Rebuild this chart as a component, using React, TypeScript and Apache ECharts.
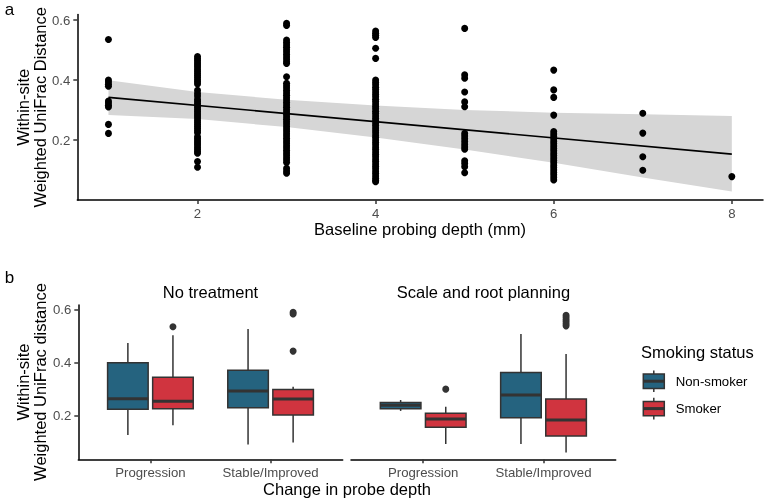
import React, { useEffect, useRef } from "react";
import * as echarts from "echarts";

// ---------- Panel a data ----------
const depthLevels = [1, 2, 3, 4, 5, 6, 7, 8];
const depth1 = [0.535, 0.4, 0.393, 0.386, 0.379, 0.33, 0.323, 0.316, 0.31, 0.252, 0.222];
const depth2 = [
  0.478, 0.471, 0.464, 0.457, 0.45, 0.443, 0.436, 0.429, 0.422, 0.415, 0.408, 0.401, 0.394, 0.387,
  0.366, 0.356, 0.347, 0.336, 0.329, 0.322, 0.315, 0.308, 0.301, 0.294, 0.287, 0.28, 0.273, 0.266,
  0.259, 0.252, 0.245, 0.238, 0.231, 0.224, 0.211, 0.204, 0.197, 0.19, 0.183, 0.176, 0.169, 0.162,
  0.156, 0.128, 0.109,
];
const depth3 = [
  0.589, 0.582, 0.533, 0.525, 0.517, 0.509, 0.501, 0.493, 0.485, 0.477, 0.469, 0.461, 0.455, 0.411,
  0.389, 0.381, 0.373, 0.365, 0.357, 0.349, 0.341, 0.333, 0.325, 0.317, 0.309, 0.301, 0.293, 0.285,
  0.277, 0.269, 0.261, 0.253, 0.245, 0.237, 0.229, 0.221, 0.213, 0.205, 0.197, 0.189, 0.181, 0.173,
  0.165, 0.157, 0.149, 0.141, 0.133, 0.125, 0.106, 0.097, 0.089,
];
const depth4 = [
  0.563, 0.556, 0.549, 0.542, 0.506, 0.472, 0.4, 0.392, 0.384, 0.376, 0.368, 0.36, 0.352, 0.344,
  0.336, 0.328, 0.32, 0.312, 0.304, 0.296, 0.288, 0.28, 0.272, 0.264, 0.256, 0.248, 0.24, 0.232,
  0.224, 0.216, 0.208, 0.2, 0.192, 0.184, 0.176, 0.168, 0.16, 0.152, 0.144, 0.136, 0.128, 0.12,
  0.112, 0.104, 0.096, 0.088, 0.08, 0.072, 0.065, 0.061,
];
const depth5 = [
  0.572, 0.417, 0.406, 0.36, 0.327, 0.311, 0.222, 0.213, 0.204, 0.195, 0.186, 0.177, 0.169, 0.131,
  0.122, 0.111, 0.091,
];
const depth6 = [
  0.433, 0.367, 0.342, 0.283, 0.228, 0.22, 0.212, 0.204, 0.196, 0.188, 0.18, 0.172, 0.164, 0.156,
  0.148, 0.14, 0.132, 0.124, 0.116, 0.108, 0.1, 0.092, 0.084, 0.076, 0.067,
];
const depth7 = [0.289, 0.223, 0.144, 0.099];
const depth8 = [0.078];
const depthColumns = [depth1, depth2, depth3, depth4, depth5, depth6, depth7, depth8];

const fitX = [1, 8];
const fitY = [0.342, 0.153];
const bandX = [1, 2, 3, 4, 5, 6, 7, 8];
const bandUpper = [0.399, 0.36, 0.334, 0.315, 0.3, 0.291, 0.286, 0.28];
const bandLower = [0.283, 0.27, 0.243, 0.208, 0.168, 0.124, 0.075, 0.028];

const xTicksA = [2, 4, 6, 8];
const yTicks = [0.2, 0.4, 0.6];

// ---------- Panel b data ----------
const categories = ["Progression", "Stable/Improved"];
const facets = ["No treatment", "Scale and root planning"];
const groups = ["Non-smoker", "Smoker"];
const groupColors = ["#25637F", "#D0343F"];
const catTicks = [1, 2];

// [lower whisker, Q1, median, Q3, upper whisker] for Progression, Stable/Improved
const noTreatNonSmoker = [
  [0.127, 0.224, 0.264, 0.399, 0.474],
  [0.092, 0.23, 0.293, 0.371, 0.526],
];
const noTreatSmoker = [
  [0.164, 0.226, 0.254, 0.345, 0.503],
  [0.099, 0.203, 0.263, 0.299, 0.309],
];
const srpNonSmoker = [
  [0.218, 0.226, 0.239, 0.25, 0.259],
  [0.094, 0.192, 0.278, 0.363, 0.507],
];
const srpSmoker = [
  [0.094, 0.157, 0.188, 0.209, 0.234],
  [0.062, 0.124, 0.184, 0.263, 0.432],
];
const noTreatSmokerOutliers = [[0.535], [0.589, 0.583, 0.443]];
const srpSmokerOutliers = [[0.3], [0.578, 0.57, 0.562, 0.554, 0.546, 0.538]];

// ---------- styling constants ----------
const FONT = "'Liberation Sans', Arial, Helvetica, sans-serif";
const DODGE = 0.1875;
const BOX_W = 0.3375;
const DARK = "#333333";
const TICK_TEXT = "#4D4D4D";

function boxItems(nonSmoker: number[][], smoker: number[][]) {
  const items: number[][] = [];
  categories.forEach((_, ci) => {
    items.push([ci + 1 - DODGE, ...nonSmoker[ci], 0]);
    items.push([ci + 1 + DODGE, ...smoker[ci], 1]);
  });
  return items;
}

function outlierItems(smokerOut: number[][]) {
  const items: number[][] = [];
  smokerOut.forEach((vals, ci) => vals.forEach((v) => items.push([ci + 1 + DODGE, v])));
  return items;
}

const boxRender = (params: any, api: any) => {
  const x = api.value(0);
  const lo = api.coord([x, api.value(1)]);
  const q1 = api.coord([x, api.value(2)]);
  const med = api.coord([x, api.value(3)]);
  const q3 = api.coord([x, api.value(4)]);
  const hi = api.coord([x, api.value(5)]);
  const halfW = api.size([BOX_W, 0])[0] / 2;
  const color = groupColors[api.value(6)];
  const cx = lo[0];
  return {
    type: "group",
    children: [
      { type: "line", shape: { x1: cx, y1: hi[1], x2: cx, y2: q3[1] }, style: { stroke: DARK, lineWidth: 1.5 } },
      { type: "line", shape: { x1: cx, y1: q1[1], x2: cx, y2: lo[1] }, style: { stroke: DARK, lineWidth: 1.5 } },
      {
        type: "rect",
        shape: { x: cx - halfW, y: q3[1], width: halfW * 2, height: q1[1] - q3[1] },
        style: { fill: color, stroke: DARK, lineWidth: 1.5 },
      },
      {
        type: "line",
        shape: { x1: cx - halfW, y1: med[1], x2: cx + halfW, y2: med[1] },
        style: { stroke: DARK, lineWidth: 3 },
      },
    ],
  };
};

const bandRender = (params: any, api: any) => {
  if (params.dataIndex !== 0) return null;
  const pts: number[][] = [];
  bandX.forEach((x, i) => pts.push(api.coord([x, bandUpper[i]])));
  for (let i = bandX.length - 1; i >= 0; i--) pts.push(api.coord([bandX[i], bandLower[i]]));
  return { type: "polygon", shape: { points: pts }, style: { fill: "#D6D6D6" } };
};

function valueAxisBase(extra: any) {
  return {
    type: "value",
    splitLine: { show: false },
    axisLine: { show: true, onZero: false, lineStyle: { color: "#000", width: 1.5 } },
    axisTick: { show: true, length: 4, lineStyle: { color: DARK, width: 1.5 } },
    axisLabel: { color: TICK_TEXT, fontSize: 13.2, fontFamily: FONT, margin: 7 },
    ...extra,
  };
}

function text(t: string, x: number, y: number, size: number, opts: any = {}) {
  return {
    type: "text",
    x,
    y,
    rotation: opts.rotation || 0,
    silent: true,
    style: {
      text: t,
      fontSize: size,
      fontFamily: FONT,
      fill: opts.fill || "#000",
      align: opts.align || "center",
      verticalAlign: "middle",
    },
  };
}

function legendKey(cy: number, color: string) {
  const cx = 653.8;
  return [
    { type: "line", shape: { x1: cx, y1: cy - 10.8, x2: cx, y2: cy + 10.8 }, style: { stroke: DARK, lineWidth: 1.5 } },
    {
      type: "rect",
      shape: { x: cx - 10.5, y: cy - 7.2, width: 21, height: 14.4 },
      style: { fill: color, stroke: DARK, lineWidth: 1.5 },
    },
    { type: "line", shape: { x1: cx - 10.5, y1: cy, x2: cx + 10.5, y2: cy }, style: { stroke: DARK, lineWidth: 3 } },
  ];
}

export default function App() {
  const ref = useRef<HTMLDivElement>(null);
  useEffect(() => {
    const chart = echarts.init(ref.current!, null, { renderer: "svg", width: 767, height: 503 });
    const scatterData = depthColumns.flatMap((col, i) => col.map((v) => [depthLevels[i], v]));
    const option: any = {
      animation: false,
      textStyle: { fontFamily: FONT },
      grid: [
        { left: 77.3, top: 14.6, width: 685.7, height: 185.4 },
        { left: 78.3, top: 305, width: 264.4, height: 154.3 },
        { left: 351, top: 305, width: 264.7, height: 154.3 },
      ],
      xAxis: [
        valueAxisBase({
          gridIndex: 0,
          min: 0.65,
          max: 8.35,
          axisLabel: { color: TICK_TEXT, fontSize: 13.2, fontFamily: FONT, margin: 7, customValues: xTicksA },
          axisTick: { show: true, length: 4, lineStyle: { color: DARK, width: 1.5 }, customValues: xTicksA },
        }),
        valueAxisBase({
          gridIndex: 1,
          min: 0.4,
          max: 2.6,
          axisLabel: {
            color: TICK_TEXT,
            fontSize: 13.2,
            fontFamily: FONT,
            margin: 7,
            customValues: catTicks,
            formatter: (v: number) => categories[Math.round(v) - 1],
          },
          axisTick: { show: true, length: 4, lineStyle: { color: DARK, width: 1.5 }, customValues: catTicks },
        }),
        valueAxisBase({
          gridIndex: 2,
          min: 0.4,
          max: 2.6,
          axisLabel: {
            color: TICK_TEXT,
            fontSize: 13.2,
            fontFamily: FONT,
            margin: 7,
            customValues: catTicks,
            formatter: (v: number) => categories[Math.round(v) - 1],
          },
          axisTick: { show: true, length: 4, lineStyle: { color: DARK, width: 1.5 }, customValues: catTicks },
        }),
      ],
      yAxis: [
        valueAxisBase({
          gridIndex: 0,
          min: 0,
          max: 0.618,
          axisLabel: {
            color: TICK_TEXT,
            fontSize: 13.2,
            fontFamily: FONT,
            margin: 7,
            customValues: yTicks,
            formatter: (v: number) => v.toFixed(1),
          },
          axisTick: { show: true, length: 4, lineStyle: { color: DARK, width: 1.5 }, customValues: yTicks },
        }),
        valueAxisBase({
          gridIndex: 1,
          min: 0.036,
          max: 0.6165,
          axisLabel: {
            color: TICK_TEXT,
            fontSize: 13.2,
            fontFamily: FONT,
            margin: 7,
            customValues: yTicks,
            formatter: (v: number) => v.toFixed(1),
          },
          axisTick: { show: true, length: 4, lineStyle: { color: DARK, width: 1.5 }, customValues: yTicks },
        }),
        { type: "value", gridIndex: 2, min: 0.036, max: 0.6165, show: false, splitLine: { show: false } },
      ],
      series: [
        {
          type: "custom",
          xAxisIndex: 0,
          yAxisIndex: 0,
          data: bandX.map((x, i) => [x, bandLower[i], bandUpper[i]]),
          encode: { x: 0, y: [1, 2] },
          renderItem: bandRender,
          silent: true,
          z: 1,
        },
        {
          type: "scatter",
          xAxisIndex: 0,
          yAxisIndex: 0,
          data: scatterData,
          symbol: "circle",
          symbolSize: 7,
          itemStyle: { color: "#000", opacity: 1 },
          silent: true,
          z: 2,
        },
        {
          type: "line",
          xAxisIndex: 0,
          yAxisIndex: 0,
          data: fitX.map((x, i) => [x, fitY[i]]),
          showSymbol: false,
          lineStyle: { color: "#000", width: 1.6 },
          silent: true,
          z: 3,
        },
        {
          type: "custom",
          name: facets[0],
          xAxisIndex: 1,
          yAxisIndex: 1,
          data: boxItems(noTreatNonSmoker, noTreatSmoker),
          encode: { x: 0, y: [1, 2, 3, 4, 5] },
          renderItem: boxRender,
          silent: true,
        },
        {
          type: "scatter",
          xAxisIndex: 1,
          yAxisIndex: 1,
          data: outlierItems(noTreatSmokerOutliers),
          symbolSize: 7,
          itemStyle: { color: DARK, opacity: 1 },
          silent: true,
        },
        {
          type: "custom",
          name: facets[1],
          xAxisIndex: 2,
          yAxisIndex: 2,
          data: boxItems(srpNonSmoker, srpSmoker),
          encode: { x: 0, y: [1, 2, 3, 4, 5] },
          renderItem: boxRender,
          silent: true,
        },
        {
          type: "scatter",
          xAxisIndex: 2,
          yAxisIndex: 2,
          data: outlierItems(srpSmokerOutliers),
          symbolSize: 7,
          itemStyle: { color: DARK, opacity: 1 },
          silent: true,
        },
      ],
      graphic: [
        text("a", 9.5, 9.5, 17),
        text("b", 9.5, 277, 17),
        text("Within-site", 23, 107.3, 16.5, { rotation: Math.PI / 2 }),
        text("Weighted UniFrac Distance", 40, 107.3, 16.5, { rotation: Math.PI / 2 }),
        text("Baseline probing depth (mm)", 420, 228.5, 16.5),
        text(facets[0], 210.5, 291.5, 16.5),
        text(facets[1], 483.4, 291.5, 16.5),
        text("Within-site", 23, 382, 16.5, { rotation: Math.PI / 2 }),
        text("Weighted UniFrac distance", 40, 382, 16.5, { rotation: Math.PI / 2 }),
        text("Change in probe depth", 347, 488.5, 16.5),
        text("Smoking status", 641, 352, 16.5, { align: "left" }),
        ...legendKey(381.2, groupColors[0]),
        ...legendKey(408.6, groupColors[1]),
        text(groups[0], 675.7, 381.5, 13.2, { align: "left" }),
        text(groups[1], 675.7, 408.5, 13.2, { align: "left" }),
      ],
    };
    chart.setOption(option);
    return () => chart.dispose();
  }, []);
  return <div ref={ref} style={{ position: "fixed", left: 0, top: 0, width: 767, height: 503 }} />;
}
